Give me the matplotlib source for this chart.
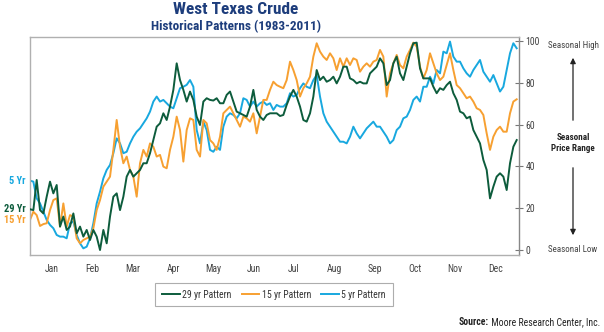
import matplotlib
matplotlib.use("Agg")
import matplotlib.pyplot as plt
import matplotlib.patches as patches
import numpy as np

plt.rcParams['font.family'] = ['DejaVu Sans Condensed', 'Liberation Sans Narrow', 'Roboto Condensed',
                               'Liberation Sans', 'DejaVu Sans']

# seasonal pattern index (0 = seasonal low, 100 = seasonal high), ~2.5 days per step
yr29 = [19.5, 19.1, 33.5, 19.1, 17.5, 25.5, 32.7, 27.1, 31.1, 11.2, 16.0, 9.6, 11.2, 17.5, 8.0, 11.2,
        6.4, 9.6, 4.8, 9.6, 6.4, 0.0, 9.6, 3.2, 16.0, 25.5, 27.1, 19.1, 25.5, 35.1, 38.3, 35.1,
        36.7, 38.3, 41.5, 41.5, 46.3, 52.6,
        59.0, 60.6, 65.4, 62.2, 68.6, 76.6, 89.3, 81.3, 76.6, 71.0, 75.8, 71.8, 63.8, 59.8, 71.0,
        72.6, 71.8, 71.5, 72.6, 70.2, 70.2, 74.2, 75.8, 71.0, 66.2, 65.4, 64.6, 63.8, 68.6, 76.6,
        67.0, 63.8, 62.2, 64.6, 65.4, 65.4, 65.4,
        64.1, 64.6, 69.4, 73.4, 76.6, 73.4, 68.6, 62.2, 61.4, 65.4, 73.4, 86.1, 81.3, 82.9, 80.5,
        81.3, 82.9, 79.7, 82.9, 87.7, 87.7, 82.1, 81.3, 79.7, 80.5, 79.7, 79.7, 84.5, 86.1, 87.7,
        91.7, 89.3, 78.9, 81.3, 89.3, 92.5, 84.5, 81.3,
        87.7, 94.1, 98.9, 99.2, 86.9, 82.1, 82.1, 82.1, 78.1, 75.0, 77.4, 76.6, 78.9, 80.5, 75.0,
        71.8, 66.2, 65.4, 63.0, 63.8, 57.4, 54.2, 51.0, 43.1, 38.3, 24.7, 30.3, 35.1, 36.7, 35.1,
        28.7, 41.5, 49.4, 52.6]
yr15 = [14.4, 18.3, 16.7, 11.5, 12.4, 12.8, 19.1, 23.9, 24.7, 11.2, 22.3, 11.2, 16.7, 16.0, 5.6, 3.2,
        4.8, 5.6, 6.4, 10.4, 19.1, 23.9, 30.3, 32.7, 35.1, 47.9, 62.2, 49.4, 41.5, 44.7, 38.3, 35.1,
        25.5, 41.5, 47.9, 44.7, 51.0, 49.4,
        44.7, 45.5, 39.9, 39.1, 47.9, 54.2, 63.8, 57.4, 42.3, 57.4, 63.0, 62.2, 47.9, 44.7, 62.2,
        60.6, 52.6, 51.0, 47.9, 54.2, 65.4, 67.0, 68.6, 65.4, 62.2, 59.0, 63.8, 63.0, 61.4, 65.4,
        55.8, 63.8, 71.8, 71.8, 76.6, 80.5, 78.9,
        78.1, 77.4, 81.3, 90.1, 86.1, 81.3, 73.4, 77.4, 79.7, 82.9, 92.5, 98.9, 94.9, 92.5, 90.9,
        94.1, 91.7, 86.1, 91.7, 87.7, 91.7, 88.5, 91.7, 90.9, 85.3, 87.7, 89.3, 87.7, 90.1, 90.9,
        95.7, 92.5, 73.4, 84.5, 89.3, 93.3, 88.5, 86.9,
        92.5, 95.7, 99.2, 97.3, 87.7, 82.1, 86.1, 94.1, 89.3, 84.5, 81.3, 82.9, 88.5, 94.1, 86.1,
        78.9, 77.4, 75.0, 72.6, 73.4, 71.0, 67.8, 67.0, 64.6, 55.8, 47.9, 54.2, 57.4, 59.0, 56.6,
        56.6, 65.4, 71.0, 72.1]
yr5 = [33.2, 32.7, 24.7, 22.3, 18.3, 14.4, 12.0, 10.4, 7.2, 6.4, 6.4, 5.6, 12.8, 13.6, 7.2, 3.2,
       0.8, 1.6, 5.6, 12.8, 22.3, 27.9, 34.3, 38.3, 40.7, 46.3, 53.4, 51.0, 46.3, 47.0, 51.0, 54.2,
       56.6, 58.2, 60.6, 63.0, 66.2, 71.0,
       73.4, 71.0, 71.8, 70.2, 68.6, 67.8, 72.6, 77.4, 78.1, 79.0, 81.3, 78.1, 57.4, 51.0, 61.4,
       57.4, 47.9, 47.0, 49.4, 47.9, 59.0, 63.8, 65.4, 64.6, 63.0, 65.4, 72.6, 71.8, 68.6, 71.0,
       68.6, 70.2, 71.0, 69.4, 70.2, 67.0, 69.4,
       68.6, 68.6, 70.2, 75.0, 73.4, 74.2, 77.4, 79.7, 78.1, 77.4, 81.3, 83.7, 73.4, 65.4, 61.4,
       59.0, 56.6, 54.2, 51.8, 51.8, 51.0, 54.2, 59.0, 55.8, 53.4, 55.8, 58.2, 59.8, 61.4, 59.0,
       59.0, 56.6, 54.2, 51.0, 52.6, 57.4, 59.0, 63.0,
       63.8, 67.0, 71.8, 73.4, 71.0, 78.1, 78.1, 82.9, 79.7, 86.1, 84.5, 94.9, 94.1, 99.7, 92.5,
       90.1, 90.1, 86.9, 84.5, 82.9, 86.1, 88.5, 90.9, 85.3, 82.9, 80.5, 83.7, 79.7, 75.8, 78.1,
       86.1, 94.1, 98.9, 96.5]

months = ['Jan', 'Feb', 'Mar', 'Apr', 'May', 'Jun', 'Jul', 'Aug', 'Sep', 'Oct', 'Nov', 'Dec']
yticks = [0, 20, 40, 60, 80, 100]

GREEN = '#0d5c3c'
ORANGE = '#f7a031'
BLUE = '#18a8df'
NAVY = '#1d3d7c'
GREY = '#444444'

fig = plt.figure(figsize=(6.04, 3.32), dpi=100)
ax = fig.add_axes([0.0497, 0.2334, 0.8096, 0.6552])

x = np.arange(len(yr29))
ax.plot(x, yr29, color=GREEN, lw=1.4, label='29 yr Pattern', zorder=3)
ax.plot(x, yr15, color=ORANGE, lw=1.4, label='15 yr Pattern', zorder=2)
ax.plot(x, yr5, color=BLUE, lw=1.4, label='5 yr Pattern', zorder=1)

ax.set_xlim(0, 146.7)
ax.set_ylim(-2.15, 101.9)

ax.set_xticks([0.6 + 12.09 * (k + 0.5) for k in range(12)])
ax.set_xticklabels(months, fontsize=7, color=GREY)
ax.tick_params(axis='x', length=0, pad=7)

ax.yaxis.tick_right()
ax.set_yticks(yticks)
ax.set_yticklabels([str(v) for v in yticks], fontsize=7, color=GREY)
ax.tick_params(axis='y', direction='inout', length=6, width=0.8, color='#777777', pad=1.5)

for side in ['left', 'top', 'bottom']:
    ax.spines[side].set_color('#b0b0b0')
    ax.spines[side].set_linewidth(1.0)
ax.spines['right'].set_color('#888888')
ax.spines['right'].set_linewidth(1.0)

# titles
fig.text(236 / 604, 1 - 9 / 332, 'West Texas Crude', ha='center', va='center',
         fontsize=12.5, fontweight='bold', color=NAVY)
fig.text(236 / 604, 1 - 26.5 / 332, 'Historical Patterns (1983-2011)', ha='center', va='center',
         fontsize=9.5, fontweight='bold', color=NAVY)

# left series labels
for label, yv, col in [('5 Yr', yr5[0], BLUE), ('29 Yr', yr29[0], GREEN), ('15 Yr', yr15[0], ORANGE)]:
    ax.annotate(label, xy=(0, yv), xycoords='data', xytext=(-3, 0), textcoords='offset points',
                ha='right', va='center', fontsize=7.5, fontweight='bold', color=col,
                annotation_clip=False)

# right-hand seasonal range annotation
rx = 573 / 604
fig.text(rx, 1 - 45 / 332, 'Seasonal High', ha='center', va='center', fontsize=6.5, color=GREY)
fig.text(rx, 1 - 249 / 332, 'Seasonal Low', ha='center', va='center', fontsize=6.5, color=GREY)
fig.text(rx, 1 - 143 / 332, 'Seasonal\nPrice Range', ha='center', va='center', fontsize=6.5,
         fontweight='bold', color='#222222', linespacing=1.3)
arrow = dict(arrowstyle='-|>', color='#222222', lw=0.9, mutation_scale=8)
fig.add_artist(patches.FancyArrowPatch(
    (rx, 1 - 123 / 332), (rx, 1 - 55 / 332), transform=fig.transFigure, **arrow))
fig.add_artist(patches.FancyArrowPatch(
    (rx, 1 - 165 / 332), (rx, 1 - 238 / 332), transform=fig.transFigure, **arrow))

# legend
leg = fig.legend(loc='center', bbox_to_anchor=(274 / 604, 1 - 294.5 / 332), ncol=3,
                 fontsize=7, frameon=True, fancybox=False, handlelength=1.8,
                 handletextpad=0.3, columnspacing=1.0, borderpad=0.7)
leg.get_frame().set_edgecolor('#999999')
leg.get_frame().set_linewidth(0.8)
for t in leg.get_texts():
    t.set_color('#333333')

# source line
src = fig.text(0.994, 1 - 322 / 332, ' Moore Research Center, Inc.', ha='right', va='center',
               fontsize=7, color='#222222')
fig.canvas.draw()
bb = src.get_window_extent().transformed(fig.transFigure.inverted())
fig.text(bb.x0, 1 - 322 / 332, 'Source:', ha='right', va='center', fontsize=7,
         fontweight='bold', color='#222222')

fig.savefig('out.png', dpi=100)
